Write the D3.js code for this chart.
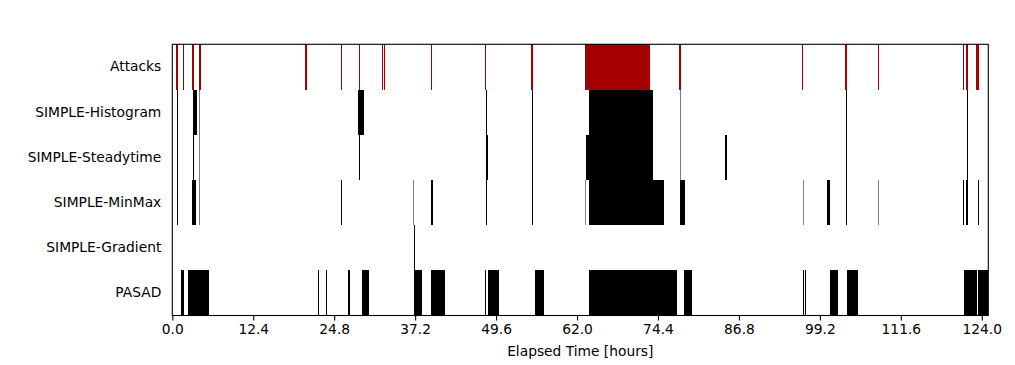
<!DOCTYPE html>
<html><head><meta charset="utf-8">
<script src="https://cdn.jsdelivr.net/npm/d3@7"></script>
<style>body{margin:0;background:#fff;} text{font-family:"DejaVu Sans",sans-serif;}</style>
</head><body>
<svg id="c" width="1015" height="365"></svg>
<script>
const categories = ["Attacks","SIMPLE-Histogram","SIMPLE-Steadytime","SIMPLE-MinMax","SIMPLE-Gradient","PASAD"];
const xTicks = [0,12.4,24.8,37.2,49.6,62.0,74.4,86.8,99.2,111.6,124.0];
const xMax = 125.0;
const attacks = [[0.5,0.65],[0.75,0.9],[1.65,1.8],[2.95,3.3],[4.05,4.35],[20.3,20.65],[25.85,26.0],[28.6,28.75],[32.1,32.25],[32.4,32.55],[39.65,39.8],[47.85,48.0],[55.0,55.3],[63.25,73.14],[77.65,77.95],[96.45,96.6],[103.05,103.35],[108.15,108.3],[121.2,121.35],[121.6,121.85],[123.15,123.5]];
const histogram = [[0.75,0.9],[3.1,3.8],[4.15,4.23],[28.4,29.3],[48.1,48.25],[55.1,55.25],[63.9,73.6],[77.75,77.83],[103.15,103.3],[121.75,121.9]];
const steadytime = [[0.75,0.9],[3.15,3.3],[4.15,4.23],[28.6,28.75],[48.05,48.3],[55.1,55.25],[63.3,73.6],[77.75,77.83],[84.6,84.95],[103.15,103.3],[121.75,121.9]];
const minmax = [[0.75,0.9],[2.97,3.63],[4.15,4.23],[25.85,26.0],[36.85,36.93],[39.6,39.9],[48.1,48.25],[55.1,55.25],[63.15,63.23],[63.9,75.3],[77.8,78.5],[96.55,96.63],[100.35,100.77],[103.15,103.3],[108.15,108.23],[121.2,121.35],[121.6,121.85],[123.35,123.5]];
const gradient = [[36.95,37.1]];
const pasad = [[1.28,1.75],[2.45,5.67],[22.3,22.45],[23.55,23.7],[26.9,27.15],[29.0,30.1],[37.0,38.25],[39.7,41.75],[47.9,48.05],[48.4,50.1],[55.57,57.0],[63.9,77.3],[78.35,79.67],[96.65,96.8],[96.9,97.05],[100.8,101.9],[103.4,105.06],[121.3,123.24],[123.4,124.9]];
const seriesData = [attacks, histogram, steadytime, minmax, gradient, pasad];
const colors = ["#a50000","#000","#000","#000","#000","#000"];

const L=172.3, R=988.3, T=44.3, B=315.5;
const svg = d3.select("#c");
const x = d3.scaleLinear().domain([0,xMax]).range([L,R]);
const y = d3.scaleBand().domain(categories).range([T,B]).padding(0);

categories.forEach((cat,i)=>{
  svg.append("g").attr("shape-rendering","crispEdges")
    .selectAll("rect").data(seriesData[i]).join("rect")
    .attr("x", d=>x(d[0]))
    .attr("width", d=>Math.max(1, x(d[1])-x(d[0])))
    .attr("y", y(cat))
    .attr("height", y.bandwidth())
    .attr("fill", colors[i])
    .attr("fill-opacity", d=> (x(d[1])-x(d[0])) < 0.7 ? 0.5 : 1);
});

const xa = svg.append("g").attr("transform",`translate(0,${B})`)
  .call(d3.axisBottom(x).tickValues(xTicks).tickFormat(d3.format(".1f")).tickSizeOuter(0).tickSize(4.9).tickPadding(3.5));
xa.select(".domain").remove();
xa.selectAll("line").attr("stroke","#000").attr("stroke-width",1.1);
xa.selectAll("text").attr("font-size","13.8px").attr("fill","#000").attr("font-family","DejaVu Sans");

const ya = svg.append("g").attr("transform",`translate(${L},0)`)
  .call(d3.axisLeft(y).tickSize(0).tickPadding(11));
ya.select(".domain").remove();
ya.selectAll("text").attr("font-size","13.8px").attr("fill","#000").attr("font-family","DejaVu Sans");

svg.append("rect").attr("x",L).attr("y",T).attr("width",R-L).attr("height",B-T)
  .attr("fill","none").attr("stroke","#000").attr("stroke-width",1.1);

svg.append("text").attr("x",(L+R)/2).attr("y",356).attr("text-anchor","middle")
  .attr("font-size","13.8px").text("Elapsed Time [hours]");
</script>
</body></html>
